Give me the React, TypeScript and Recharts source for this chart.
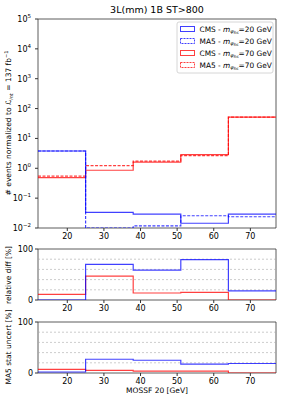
import React from "react";
import {
  ComposedChart,
  Line,
  XAxis,
  YAxis,
  ReferenceArea,
  ReferenceLine,
} from "recharts";

// bin edges of the MOSSF histogram
const edges = [12, 25, 38, 51, 64, 77];
const xTicks = [20, 30, 40, 50, 60, 70];

// events per bin
const cms20 = [3.8, 0.0335, 0.029, 0.0144, 0.029];
const ma520 = [3.8, 0.01, 0.0117, 0.0257, 0.0238];
const cms70 = [0.49, 0.86, 1.62, 2.87, 52];
const ma570 = [0.55, 1.23, 1.75, 2.65, 52];

// relative diff [%]
const diff20 = [0, 70, 58.5, 79, 18];
const diff70 = [11, 47, 13.7, 15, 0];

// MA5 stat uncertainty [%]
const unc20 = [2, 27, 25, 17.5, 18.6];
const unc70 = [7, 5, 3.5, 3.5, 0];

const logTicks = [0.01, 0.1, 1, 10, 100, 1000, 10000, 100000];
const pctTicks = [0, 100];
const pctGrid = [20, 40, 60, 80];

const legendItems = [
  { tool: "CMS", mass: "20", color: "#0000ff", dashed: false },
  { tool: "MA5", mass: "20", color: "#0000ff", dashed: true },
  { tool: "CMS", mass: "70", color: "#ff0000", dashed: false },
  { tool: "MA5", mass: "70", color: "#ff0000", dashed: true },
];

const BLUE = "#0000ff";
const RED = "#ff0000";
const FONT = "DejaVu Sans, sans-serif";

// histogram rows for a step line: each edge gets the value of the bin on its right
function steps(series: Record<string, number[]>) {
  return edges.map((x, i) => {
    const row: Record<string, number> = { x };
    Object.keys(series).forEach((k) => {
      const vals = series[k];
      row[k] = vals[Math.min(i, vals.length - 1)];
    });
    return row;
  });
}

const mainData = steps({ cms20, ma520, cms70, ma570 });
const diffData = steps({ diff20, diff70 });
const uncData = steps({ unc20, unc70 });

function LogTick(props: any) {
  const { x, y, payload } = props;
  const exp = Math.round(Math.log10(payload.value));
  const e = String(exp).replace("-", "−");
  return (
    <text x={x - 2} y={y + 3} textAnchor="end" fontSize={8} fill="#000" fontFamily={FONT}>
      10
      <tspan dy={-4} fontSize={5.5}>
        {e}
      </tspan>
    </text>
  );
}

const tickStyle = { fontSize: 8, fill: "#000", fontFamily: FONT };
const lineProps = {
  type: "stepAfter" as const,
  dot: false,
  isAnimationActive: false,
  strokeWidth: 1.2,
  strokeOpacity: 0.75,
};

function Frame({ y1, y2 }: { y1: number; y2: number }) {
  return (
    <ReferenceArea x1={12} x2={77} y1={y1} y2={y2} fill="none" stroke="#333" strokeWidth={0.8} />
  );
}

function PctPanel({ data, k20, k70, top, height, mt }: any) {
  return (
    <div style={{ position: "absolute", left: 0, top }}>
      <ComposedChart width={289} height={height} data={data} margin={{ top: mt, right: 13, left: 0, bottom: 0 }}>
        <XAxis
          dataKey="x"
          type="number"
          domain={[12, 77]}
          ticks={xTicks}
          allowDataOverflow
          axisLine={false}
          tickSize={3}
          tick={tickStyle}
          height={17}
          stroke="#333"
        />
        <YAxis
          type="number"
          domain={[0, 100]}
          ticks={pctTicks}
          allowDataOverflow
          axisLine={false}
          tickSize={3}
          tick={tickStyle}
          width={38}
          stroke="#333"
        />
        {pctGrid.map((g) => (
          <ReferenceLine key={g} y={g} stroke="#aaa" strokeDasharray="2 2" strokeWidth={0.6} />
        ))}
        <Line dataKey={k70} stroke={RED} {...lineProps} />
        <Line dataKey={k20} stroke={BLUE} {...lineProps} />
        <Frame y1={0} y2={100} />
      </ComposedChart>
    </div>
  );
}

function LegendLabel({ tool, mass }: { tool: string; mass: string }) {
  return (
    <>
      {tool} - <tspan fontStyle="italic">m</tspan>
      <tspan dy={1.5} fontSize={5.2} fontStyle="italic">
        φ
      </tspan>
      <tspan dy={1} fontSize={4.2} fontStyle="italic">
        hs
      </tspan>
      <tspan dy={-2.5}>={mass} GeV</tspan>
    </>
  );
}

export default function App() {
  return (
    <div style={{ position: "absolute", left: 0, top: 0, width: 289, height: 417, background: "#fff", fontFamily: FONT }}>
      <div style={{ position: "absolute", left: 0, top: 0 }}>
        <ComposedChart width={289} height={245} data={mainData} margin={{ top: 19, right: 13, left: 0, bottom: 0 }}>
          <XAxis
            dataKey="x"
            type="number"
            domain={[12, 77]}
            ticks={xTicks}
            allowDataOverflow
            axisLine={false}
            tickSize={3}
            tick={tickStyle}
            height={17}
            stroke="#333"
          />
          <YAxis
            type="number"
            scale="log"
            domain={[0.01, 100000]}
            ticks={logTicks}
            allowDataOverflow
            axisLine={false}
            tickSize={3}
            tick={<LogTick />}
            width={38}
            stroke="#333"
          />
          <Line dataKey="ma570" stroke={RED} strokeDasharray="3 1.5" {...lineProps} />
          <Line dataKey="cms70" stroke={RED} {...lineProps} />
          <Line dataKey="ma520" stroke={BLUE} strokeDasharray="3 1.5" {...lineProps} />
          <Line dataKey="cms20" stroke={BLUE} {...lineProps} />
          <Frame y1={0.01} y2={100000} />
        </ComposedChart>
      </div>

      <PctPanel data={diffData} k20="diff20" k70="diff70" top={240} height={77} mt={9} />
      <PctPanel data={uncData} k20="unc20" k70="unc70" top={312} height={78} mt={10} />

      <svg
        width={289}
        height={417}
        style={{ position: "absolute", left: 0, top: 0, pointerEvents: "none" }}
        fontFamily={FONT}
      >
        <text x={157} y={13} textAnchor="middle" fontSize={9.5} fill="#000">
          3L(mm) 1B ST&gt;800
        </text>
        <text transform="translate(11,123) rotate(-90)" textAnchor="middle" fontSize={7.5} fill="#000">
          # events normalized to <tspan fontStyle="italic">ℒ</tspan>
          <tspan dy={1.5} fontSize={5} fontStyle="italic">
            int
          </tspan>
          <tspan dy={-1.5}> = 137 fb</tspan>
          <tspan dy={-3} fontSize={5}>
            −1
          </tspan>
        </text>
        <text transform="translate(11,275) rotate(-90)" textAnchor="middle" fontSize={7.5} fill="#000">
          relative diff [%]
        </text>
        <text transform="translate(11,347) rotate(-90)" textAnchor="middle" fontSize={7.5} fill="#000">
          MA5 stat uncert [%]
        </text>
        <text x={157} y={393} textAnchor="middle" fontSize={7.5} fill="#000">
          MOSSF 20 [GeV]
        </text>

        <rect x={177} y={22} width={96} height={51} rx={2} fill="#fff" fillOpacity={0.85} stroke="#ccc" strokeWidth={0.8} />
        {legendItems.map((it, i) => {
          const cy = 29 + i * 12;
          return (
            <g key={i}>
              <rect
                x={180.5}
                y={cy - 2.5}
                width={14}
                height={5}
                fill="none"
                stroke={it.color}
                strokeOpacity={0.75}
                strokeWidth={1}
                strokeDasharray={it.dashed ? "2 1" : undefined}
              />
              <text x={199.5} y={cy + 2.5} fontSize={7.4} fill="#000">
                <LegendLabel tool={it.tool} mass={it.mass} />
              </text>
            </g>
          );
        })}
      </svg>
    </div>
  );
}
